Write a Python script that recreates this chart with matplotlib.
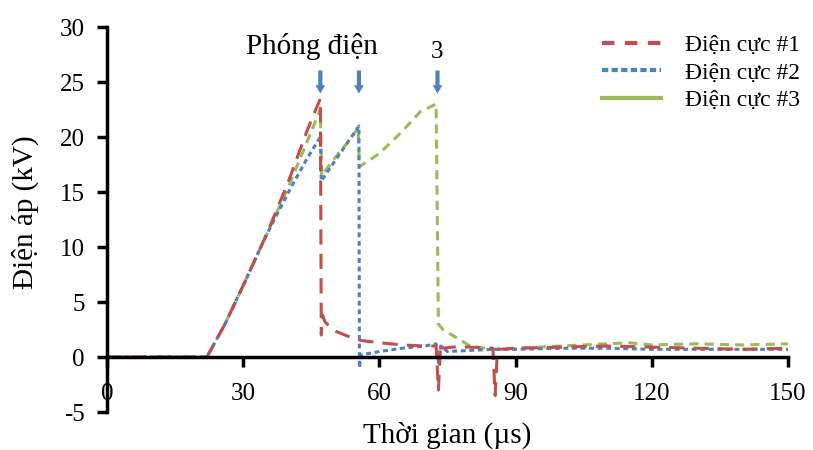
import matplotlib.pyplot as plt
from matplotlib.lines import Line2D

# data
t1 = [0, 22, 26, 30, 35, 40, 44, 47, 47.2, 47.5, 48, 50, 53, 56, 60, 65, 70, 72.5, 73, 73.5, 74, 76, 80, 85, 85.5, 86, 86.5, 90, 100, 110, 120, 130, 140, 150]
v1 = [0, 0, 3, 6.5, 11, 16, 20.5, 23.5, 2, 3.8, 3.2, 2.4, 1.9, 1.5, 1.3, 1.1, 1.0, 1.0, -3, 1.2, 0.8, 0.9, 0.9, 0.8, -3.5, 0.7, 0.7, 0.8, 0.9, 1.0, 0.9, 0.8, 0.7, 0.8]

t2 = [0, 22, 26, 30, 35, 40, 44, 47, 47.2, 50, 53, 55.5, 55.6, 56, 60, 65, 70, 72.5, 73, 73.5, 75, 80, 85, 90, 100, 110, 120, 130, 140, 150]
v2 = [0, 0, 3, 6.5, 11, 15, 18, 20, 16, 17.7, 19.5, 21, -1, 0.2, 0.5, 0.8, 1.0, 1.2, -0.5, 1.0, 0.5, 0.6, 0.7, 0.7, 0.8, 0.8, 0.7, 0.7, 0.7, 0.7]

t3 = [0, 22, 26, 30, 35, 40, 44, 47, 47.3, 50, 53, 55.3, 55.6, 60, 65, 69, 72.5, 73, 74, 76, 80, 85, 90, 100, 110, 115, 120, 130, 140, 150]
v3 = [0, 0, 3, 6.5, 11, 15.5, 19.5, 22.5, 16.5, 18, 19.5, 20.8, 17.3, 18.5, 20.5, 22.3, 23, 3, 2.5, 2, 1.0, 0.7, 0.8, 1.0, 1.2, 1.3, 1.1, 1.2, 1.1, 1.2]

labels = ['Điện cực #1', 'Điện cực #2', 'Điện cực #3']
discharge_t = [47, 55.5, 72.8]

red = '#c0504d'
blue = '#4f81bd'
green = '#9bbb59'

plt.rcParams['font.family'] = ['Liberation Serif', 'DejaVu Serif']

fig = plt.figure(figsize=(8.13, 4.5), dpi=100)
ax = fig.add_axes([0.1316, 0.0844, 0.8376, 0.8556])

ax.plot(t3, v3, color=green, lw=2.2, dashes=(3, 2))
ax.plot(t2, v2, color=blue, lw=2.2, dashes=(1.6, 1.2))
ax.plot(t1, v1, color=red, lw=2.2, dashes=(5, 3))

ax.set_xlim(0, 150)
ax.set_ylim(-5, 30)
ax.set_xticks([0, 30, 60, 90, 120, 150])
ax.set_yticks([-5, 0, 5, 10, 15, 20, 25, 30])
ax.set_yticklabels(['-5', '0', '5', '10', '15', '20', '25', '30'])

ax.spines['top'].set_visible(False)
ax.spines['right'].set_visible(False)
ax.spines['bottom'].set_position(('data', 0))
ax.spines['left'].set_linewidth(2.5)
ax.spines['bottom'].set_linewidth(2.5)
ax.tick_params(axis='both', width=2.5, length=7, labelsize=18)
ax.tick_params(axis='x', direction='out', pad=12)
ax.tick_params(axis='y', direction='out', pad=9)

ax.set_ylabel('Điện áp (kV)', fontsize=21)
ax.yaxis.set_label_coords(-0.1, 0.52)
ax.set_xlabel('Thời gian (µs)', fontsize=21)
ax.xaxis.set_label_coords(0.5, -0.025)

# arrows marking the discharges
for t in discharge_t:
    ax.annotate('', xy=(t, 23.7), xytext=(t, 26.3),
                arrowprops=dict(arrowstyle='simple,head_width=0.7,head_length=0.6,tail_width=0.3',
                                color=blue, lw=0))
ax.text(45.2, 28.2, 'Phóng điện', fontsize=21, ha='center', va='center')
ax.text(72.8, 27.7, '3', fontsize=18, ha='center', va='center')

handles = [Line2D([], [], color=red, lw=3, dashes=(3, 2.5)),
           Line2D([], [], color=blue, lw=3, dashes=(1.5, 0.8)),
           Line2D([], [], color=green, lw=3)]
fig.legend(handles, labels, loc='upper right', bbox_to_anchor=(1.01, 0.97),
           frameon=False, fontsize=17, handlelength=2.5, labelspacing=0.25, handletextpad=1.0)

plt.savefig('out.png', dpi=100)
